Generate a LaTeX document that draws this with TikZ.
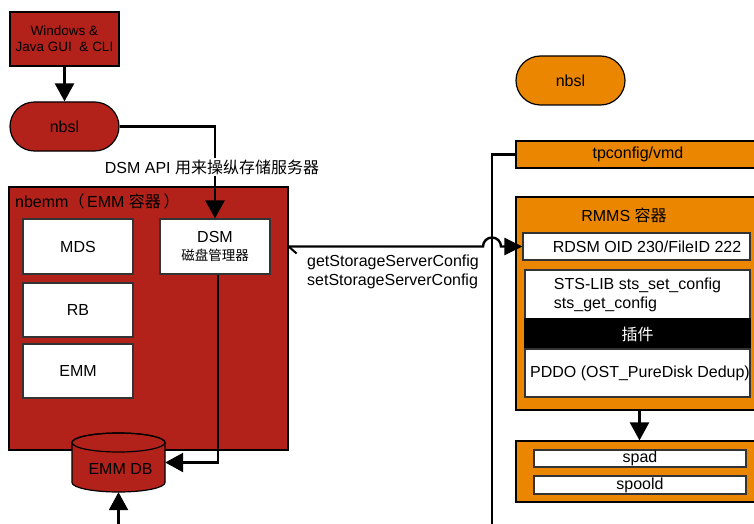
\documentclass[tikz,border=0pt]{standalone}
\usepackage{fontspec}
\setmainfont{Liberation Sans}
\newfontfamily\cjk{Noto Sans CJK SC}
\usetikzlibrary{arrows.meta}
\definecolor{nbred}{HTML}{B2221A}
\definecolor{nborange}{HTML}{EA8600}
\begin{document}
\begin{tikzpicture}[x=1pt,y=-1pt,
  base/.style={font=\fontsize{16}{19}\selectfont, inner sep=0pt},
  redbox/.style={base, draw=black, line width=1.2pt, fill=nbred},
  orbox/.style={base, draw=black, line width=1.2pt, fill=nborange},
  whitebox/.style={base, draw=black!80, line width=1.2pt, fill=white},
  pill/.style={rounded corners=24.5pt, minimum width=109pt, minimum height=49pt},
  conn/.style={line width=2.4pt, -{Triangle[length=18pt,width=19pt]}},
  plainline/.style={line width=2.2pt},
]
\useasboundingbox (0,0) rectangle (754,524);
\clip (0,0) rectangle (754,524);

% ---------- left side ----------
\node[redbox, minimum width=109pt, minimum height=54pt, align=center,
      font=\fontsize{13.5}{16}\selectfont] (gui) at (64.5,39) {Windows \&\\Java GUI \ \& CLI};
\node[redbox, pill] (nbsl) at (64.5,126.5) {nbsl};

\node[redbox, minimum width=279pt, minimum height=263pt] (nbemm) at (148.5,318.5) {};
\node[base, anchor=west] (nbemmtitle) at (15,201) {nbemm{\cjk（}\,EMM {\cjk 容器}\,{\cjk ）}};

\node[whitebox, minimum width=110pt, minimum height=55pt] (mds) at (78,246.5) {MDS};
\node[whitebox, minimum width=110pt, minimum height=54pt] (rb) at (78,310) {RB};
\node[whitebox, minimum width=110pt, minimum height=54pt] (emm) at (78,371) {EMM};
\node[whitebox, minimum width=110pt, minimum height=55pt, align=center] (dsm) at (215,246.5)
  {DSM\\[-1pt]{\cjk\fontsize{13.5}{16}\selectfont 磁盘管理器}};

% EMM DB cylinder
\draw[fill=nbred, line width=1.2pt] (72,442.5) -- (72,482.5)
  arc[start angle=180, end angle=360, x radius=46.5pt, y radius=9.5pt] -- (165,442.5)
  arc[start angle=0, end angle=180, x radius=46.5pt, y radius=9.5pt] -- cycle;
\draw[line width=1.2pt] (118.5,442.5) ellipse[x radius=46.5pt, y radius=9.5pt];
\node[base, minimum width=93pt, minimum height=59pt,
      label={[base, xshift=2pt, yshift=-6pt]center:EMM DB}] (db) at (118.5,462.5) {};

\draw[conn] (gui) -- (nbsl);
\draw[conn] (nbsl.east) -| (dsm.north);
\node[base, fill=white, inner ysep=2pt] (apilabel) at (212,167) {DSM API {\cjk 用来操纵存储服务器}};
\draw[conn] ([xshift=3pt]dsm.south) |- (db.east);
\coordinate (dbin) at (118.5,530);
\draw[conn] (dbin) -- (db.south);

% ---------- right side ----------
\node[orbox, pill] (nbsl2) at (570.5,80.5) {nbsl};
\node[orbox, minimum width=244pt, minimum height=27pt] (tp) at (638,154.5) {tpconfig/vmd};
\node[orbox, minimum width=244pt, minimum height=213pt] (rmms) at (638,303.5) {};
\node[base] (rmmstitle) at (624,215) {RMMS {\cjk 容器}};
\node[whitebox, minimum width=227pt, minimum height=27pt] (rdsm) at (636.5,246.5)
  {\hspace*{21pt}RDSM OID 230/FileID 222};
\node[whitebox, minimum width=225pt, minimum height=49pt, align=left] (sts) at (637.5,294.5)
  {STS-LIB sts\_set\_config\\sts\_get\_config};
\node[base, draw=black, line width=1.2pt, fill=black, text=white, minimum width=225pt, minimum height=30pt] (plug) at (637.5,334)
  {\cjk 插件};
\node[whitebox, minimum width=225pt, minimum height=48pt] (pddo) at (637.5,373)
  {\hspace*{5pt}PDDO (OST\_PureDisk Dedup)};

\node[orbox, minimum width=244pt, minimum height=61pt] (spool) at (638,471.5) {};
\node[whitebox, minimum width=212pt, minimum height=17pt] (spad) at (640,458.5) {spad};
\node[whitebox, minimum width=212pt, minimum height=18pt] (spoold) at (640,485) {spoold};

\draw[conn] ([xshift=1.5pt]rmms.south) -- ([xshift=1.5pt]spool.north);

\coordinate (tpbend) at (492,154.5);
\coordinate (tpout) at (492,530);
\draw[plainline] (tp.west) -- (tpbend) -- (tpout);

\coordinate (jumpin) at (483,246.5);
\draw[line width=2.4pt, -{Triangle[length=18pt,width=17pt]}]
  (nbemm.east |- rdsm.west) -- (jumpin) arc[start angle=180, end angle=0, radius=9pt] -- (rdsm.west);
\draw[line width=2pt] (nbemm.east |- rdsm.west) -- ++(8,7);
\node[base, anchor=west, align=left] (cfglabel) at (307,271.5)
  {getStorageServerConfig\\setStorageServerConfig};
\end{tikzpicture}
\end{document}
